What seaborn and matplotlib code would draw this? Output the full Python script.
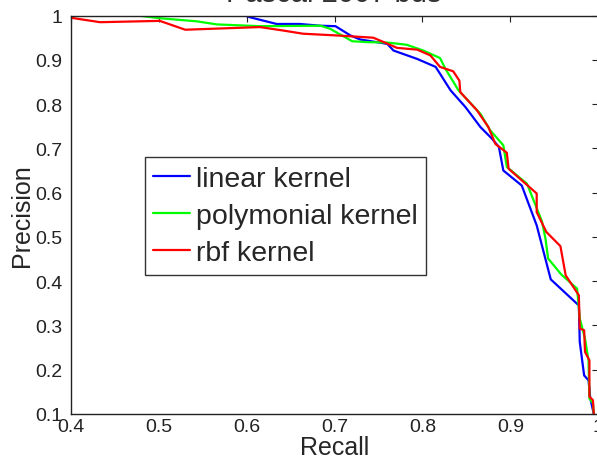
import numpy as np
import pandas as pd
import matplotlib
matplotlib.use("Agg")
import matplotlib.pyplot as plt
import seaborn as sns

# precision/recall curves
linear_recall = [0.598, 0.604, 0.634, 0.660, 0.684, 0.701, 0.718, 0.729, 0.760, 0.767,
                 0.794, 0.815, 0.832, 0.849, 0.866, 0.879, 0.887, 0.892, 0.913, 0.930,
                 0.946, 0.978, 0.979, 0.984, 0.989, 0.991, 0.995]
linear_prec = [1.000, 0.996, 0.981, 0.981, 0.977, 0.976, 0.955, 0.946, 0.936, 0.921,
               0.902, 0.884, 0.831, 0.793, 0.748, 0.722, 0.703, 0.650, 0.616, 0.526,
               0.404, 0.345, 0.263, 0.187, 0.176, 0.135, 0.100]

poly_recall = [0.476, 0.501, 0.543, 0.566, 0.615, 0.684, 0.695, 0.720, 0.737, 0.760,
               0.782, 0.801, 0.820, 0.826, 0.841, 0.866, 0.877, 0.892, 0.896, 0.919,
               0.936, 0.940, 0.943, 0.958, 0.976, 0.979, 0.985, 0.989, 0.990, 0.994, 0.995]
poly_prec = [1.000, 0.994, 0.987, 0.980, 0.976, 0.977, 0.970, 0.942, 0.940, 0.939,
             0.934, 0.921, 0.904, 0.880, 0.831, 0.778, 0.741, 0.707, 0.658, 0.620,
             0.535, 0.496, 0.451, 0.415, 0.383, 0.316, 0.270, 0.221, 0.135, 0.124, 0.100]

rbf_recall = [0.400, 0.433, 0.501, 0.530, 0.615, 0.642, 0.664, 0.703, 0.744, 0.756,
              0.771, 0.794, 0.809, 0.820, 0.835, 0.842, 0.843, 0.862, 0.875, 0.883,
              0.896, 0.898, 0.930, 0.930, 0.941, 0.957, 0.963, 0.978, 0.979, 0.984,
              0.985, 0.990, 0.990, 0.994, 0.995]
rbf_prec = [0.995, 0.985, 0.988, 0.968, 0.974, 0.966, 0.959, 0.955, 0.950, 0.940,
            0.927, 0.923, 0.910, 0.884, 0.874, 0.853, 0.827, 0.786, 0.748, 0.710,
            0.690, 0.654, 0.598, 0.556, 0.511, 0.479, 0.413, 0.368, 0.293, 0.289,
            0.240, 0.221, 0.139, 0.131, 0.100]

labels = ["linear kernel", "polymonial kernel", "rbf kernel"]
colors = ["#0000ff", "#00ff00", "#ff0000"]

frames = []
for lab, r, p in zip(labels, [linear_recall, poly_recall, rbf_recall],
                     [linear_prec, poly_prec, rbf_prec]):
    d = pd.DataFrame({"Recall": r, "Precision": p})
    d["kernel"] = lab
    frames.append(d)
df = pd.concat(frames, ignore_index=True)

sns.set_style("white")
plt.rcParams["font.family"] = ["Liberation Sans", "DejaVu Sans"]

fig = plt.figure(figsize=(5.97, 4.60), dpi=100)
ax = fig.add_axes([0.119, 0.098, 0.883, 0.866])

sns.lineplot(data=df, x="Recall", y="Precision", hue="kernel", hue_order=labels,
             palette=colors, sort=False, estimator=None, units="kernel",
             linewidth=1.6, ax=ax)

ax.set_xlim(0.4, 1.0)
ax.set_ylim(0.1, 1.0)
ax.set_xticks(np.arange(0.4, 1.01, 0.1))
ax.set_xticklabels(["0.4", "0.5", "0.6", "0.7", "0.8", "0.9", "1"])
ax.set_yticks(np.arange(0.1, 1.01, 0.1))
ax.set_yticklabels(["0.1", "0.2", "0.3", "0.4", "0.5", "0.6", "0.7", "0.8", "0.9", "1"])
ax.tick_params(direction="in", top=True, right=True, length=4, width=0.8,
               labelsize=14, colors="#222222")
ax.tick_params(axis="y", pad=6)
ax.tick_params(axis="x", pad=3)
for s in ax.spines.values():
    s.set_color("#222222")
    s.set_linewidth(1.0)
    s.set_visible(True)
ax.set_xlabel("Recall", fontsize=18, labelpad=0)
ax.set_ylabel("Precision", fontsize=18, labelpad=1)

leg = ax.legend(loc="upper left", bbox_to_anchor=(0.14, 0.645), fontsize=20.5,
                frameon=True, fancybox=False, handlelength=1.3, handletextpad=0.2,
                labelspacing=0.4, borderpad=0.3, borderaxespad=0)
leg.get_frame().set_edgecolor("black")
leg.get_frame().set_linewidth(1.0)

# title sits mostly above the cropped top edge
fig.text(0.559, 0.996, "Pascal 2007 bus", ha="center", va="baseline",
         fontsize=21, color="#333333")

fig.savefig("out.png", dpi=100)
